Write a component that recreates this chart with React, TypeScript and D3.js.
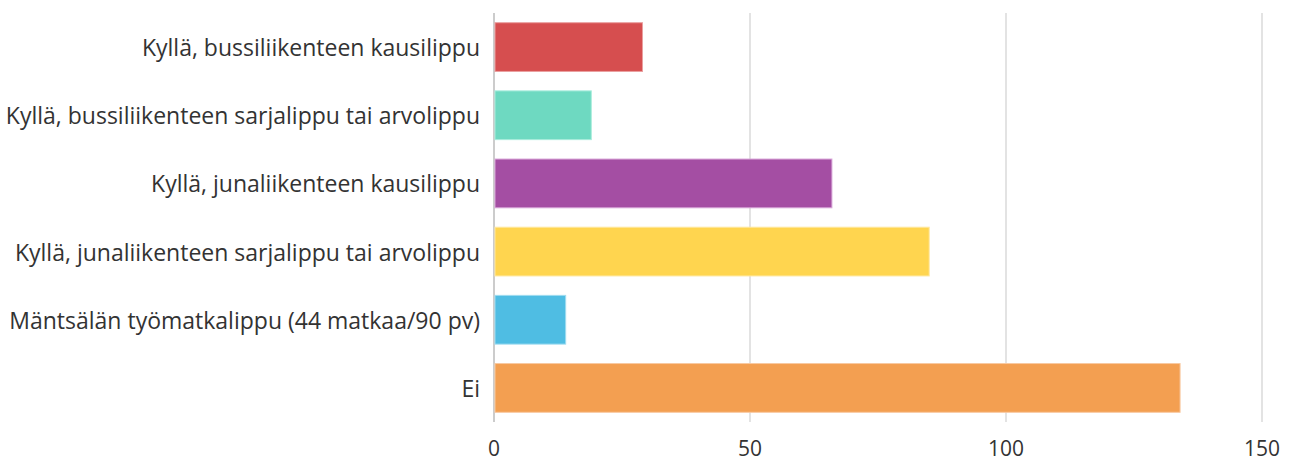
import React from "react";
import * as d3 from "d3";

const categories = [
  "Kyllä, bussiliikenteen kausilippu",
  "Kyllä, bussiliikenteen sarjalippu tai arvolippu",
  "Kyllä, junaliikenteen kausilippu",
  "Kyllä, junaliikenteen sarjalippu tai arvolippu",
  "Mäntsälän työmatkalippu (44 matkaa/90 pv)",
  "Ei",
];
const values = [29, 19, 66, 85, 14, 134];
const colors = ["#d64e4f", "#6ed9c1", "#a44ea3", "#ffd54f", "#4fbde3", "#f39f51"];
const strokes = ["#eaa0a0", "#a8ecdc", "#d8a6d8", "#ffe8a0", "#a0dcf0", "#f8c9a0"];
const ticks = [0, 50, 100, 150];

const W = 1300;
const H = 462;
const x0 = 494;
const x1 = 1262;
const yTop = 13;
const yBot = 422;

export default function App() {
  const x = d3.scaleLinear().domain([0, 150]).range([x0, x1]);
  const y = d3
    .scaleBand<string>()
    .domain(categories)
    .range([yTop, yBot])
    .paddingInner(0.27)
    .paddingOuter(0.135);
  const font = "'Open Sans', sans-serif";
  return (
    <svg
      width={W}
      height={H}
      style={{ position: "absolute", left: 0, top: 0 }}
      fontFamily={font}
    >
      {ticks.map((t) => (
        <line
          key={"g" + t}
          x1={x(t)}
          x2={x(t)}
          y1={yTop}
          y2={yBot}
          stroke={t === 0 ? "#cccccc" : "#e3e3e3"}
          strokeWidth={2}
        />
      ))}
      {categories.map((c, i) => (
        <rect
          key={c}
          x={x(0) + 1}
          y={(y(c) as number) + 0.5}
          width={x(values[i]) - x(0) - 1}
          height={y.bandwidth() - 1}
          fill={colors[i]}
          stroke={strokes[i]}
          strokeWidth={1}
        />
      ))}
      {categories.map((c) => (
        <text
          key={"l" + c}
          x={480}
          y={(y(c) as number) + y.bandwidth() / 2}
          textAnchor="end"
          dominantBaseline="central"
          fontSize={23}
          fill="#333"
        >
          {c}
        </text>
      ))}
      {ticks.map((t) => (
        <text
          key={"t" + t}
          x={x(t)}
          y={448}
          textAnchor="middle"
          dominantBaseline="central"
          fontSize={21}
          fill="#333"
        >
          {t}
        </text>
      ))}
    </svg>
  );
}
